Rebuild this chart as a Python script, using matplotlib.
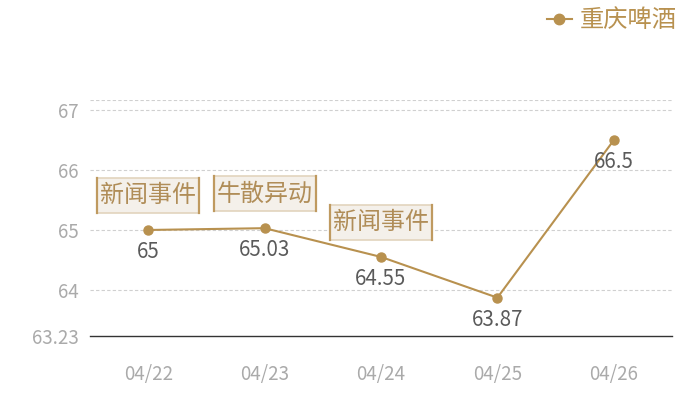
import matplotlib
matplotlib.use("Agg")
import matplotlib.pyplot as plt
from matplotlib.patches import Rectangle
from matplotlib.lines import Line2D

plt.rcParams['font.family'] = ['Noto Sans CJK SC', 'DejaVu Sans']

dates = ['04/22', '04/23', '04/24', '04/25', '04/26']
values = [65, 65.03, 64.55, 63.87, 66.5]
value_labels = ['65', '65.03', '64.55', '63.87', '66.5']
series_name = '重庆啤酒'
event_idx = [0, 1, 2]
event_text = ['新闻事件', '牛散异动', '新闻事件']
y_ticks = [63.23, 64, 65, 66, 67]
y_min, y_max = 63.23, 67.17

LINE = '#b8914f'
fig = plt.figure(figsize=(7, 4), dpi=100)
ax = fig.add_axes([90/700, 64/400, 582/700, 236/400])
x = list(range(len(dates)))
ax.set_xlim(-0.5, len(dates) - 0.5)
ax.set_ylim(y_min, y_max)

for t in y_ticks[1:] + [y_max]:
    ax.axhline(t, color='#d0d0d0', lw=0.8, ls=(0, (3, 2)), zorder=0)

ax.plot(x, values, color=LINE, lw=1.5, marker='o', markersize=6.5, zorder=3)

for i, (v, s) in enumerate(zip(values, value_labels)):
    ax.annotate(s, (i, v), xytext=(0, -22), textcoords='offset pixels',
                ha='center', va='center', fontsize=14.8, color='#5a5a5a',
                fontweight='light', zorder=4)

for spine in ['top', 'right', 'left']:
    ax.spines[spine].set_visible(False)
ax.spines['bottom'].set_color('#333333')
ax.spines['bottom'].set_linewidth(1)

ax.set_xticks(x)
ax.set_xticklabels(dates, fontweight='light')
ax.set_yticks(y_ticks)
ax.set_yticklabels([f'{t:g}' for t in y_ticks], fontweight='light')
ax.tick_params(axis='x', length=0, pad=20, labelsize=13.5, labelcolor='#aaaaaa')
ax.tick_params(axis='y', length=0, pad=8, labelsize=13.5, labelcolor='#aaaaaa')

# event boxes
bw, bh, gap = 102, 35, 17
for idx, txt in zip(event_idx, event_text):
    px, py = ax.transData.transform((idx, values[idx]))
    x0 = px - bw / 2
    y0 = py + gap
    fig.patches.append(Rectangle((x0, y0), bw, bh, transform=None,
                                 facecolor='#f4f0ea', edgecolor='#e2d4bd', lw=1.2, zorder=5))
    for xx in (x0, x0 + bw):
        fig.lines.append(Line2D([xx, xx], [y0, y0 + bh], transform=None,
                                color='#bf9a60', lw=1.6, zorder=6))
    fig.text(px, y0 + bh / 2, txt, transform=None, ha='center', va='center',
             fontsize=17.3, color='#b08d58', fontweight='light', zorder=7)

handle = Line2D([], [], color=LINE, lw=1.5, marker='o', markersize=7.5)
fig.legend([handle], [series_name], loc='upper right', bbox_to_anchor=(0.988, 1.018),
           frameon=False, labelcolor='#b8914f', handlelength=1.0,
           handletextpad=0.35, borderaxespad=0.2, prop={'weight': 'light', 'size': 17.5})

fig.savefig('out.png', dpi=100)
